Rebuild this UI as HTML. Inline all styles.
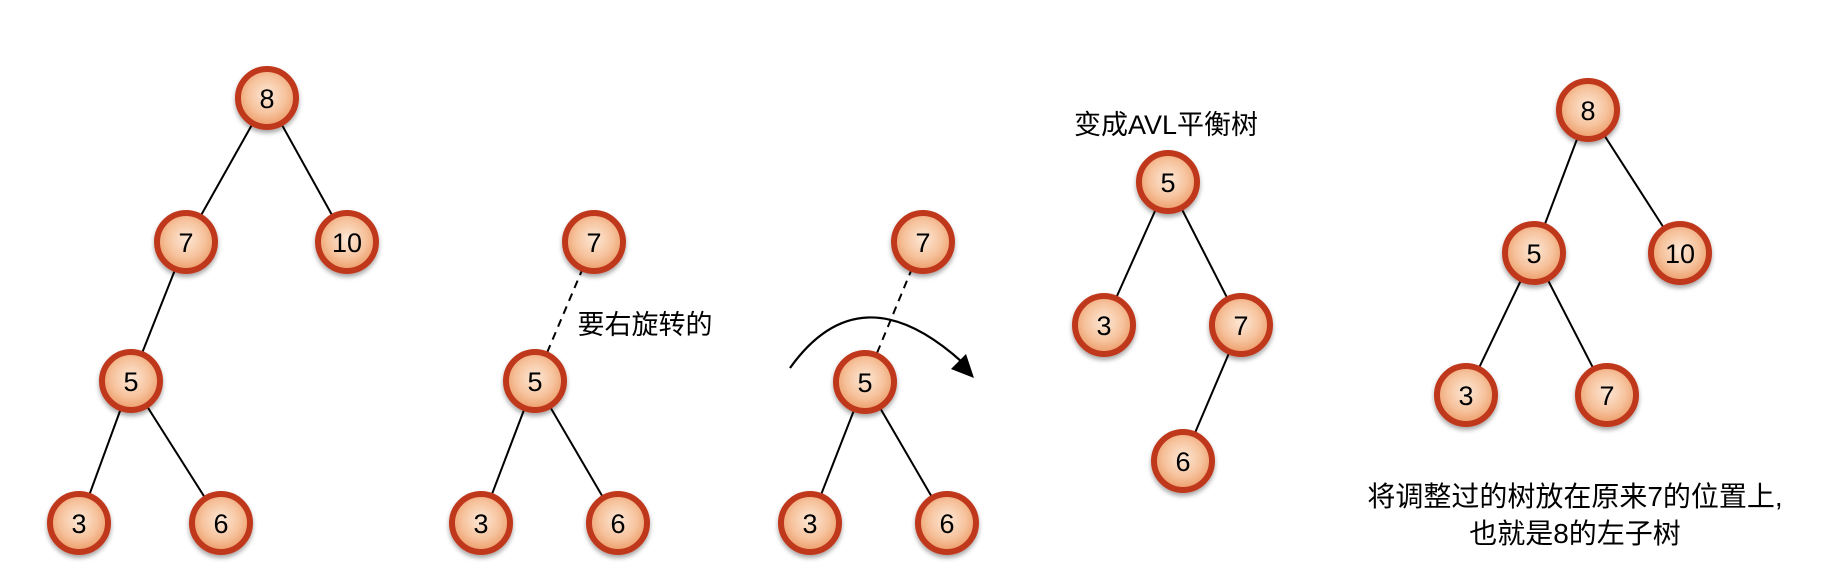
<!DOCTYPE html>
<html><head><meta charset="utf-8"><style>
body{margin:0;background:#fff}
text{font-family:"Liberation Sans","Noto Sans CJK SC",sans-serif}
</style></head><body>
<svg width="1822" height="580" viewBox="0 0 1822 580" xmlns="http://www.w3.org/2000/svg">
<defs>
<radialGradient id="g" cx="50%" cy="45%" r="55%">
<stop offset="0" stop-color="#fde8d6"/><stop offset="0.6" stop-color="#f6c29c"/><stop offset="1" stop-color="#ec9a66"/>
</radialGradient>
<filter id="sh" x="-30%" y="-30%" width="160%" height="170%"><feDropShadow dx="0" dy="3" stdDeviation="2.5" flood-opacity="0.35"/></filter>
</defs>
<g stroke="#000" stroke-width="2" fill="none">
<line x1="267" y1="98" x2="186" y2="242"/><line x1="267" y1="98" x2="347" y2="242"/>
<line x1="186" y1="242" x2="131" y2="381"/><line x1="131" y1="381" x2="79" y2="523"/><line x1="131" y1="381" x2="221" y2="523"/>
<line x1="594" y1="242" x2="535" y2="381" stroke-dasharray="8,6"/>
<line x1="535" y1="381" x2="481" y2="523"/><line x1="535" y1="381" x2="618" y2="523"/>
<line x1="923" y1="242" x2="865" y2="382" stroke-dasharray="8,6"/>
<line x1="865" y1="382" x2="810" y2="523"/><line x1="865" y1="382" x2="947" y2="523"/>
<line x1="1168" y1="182" x2="1104" y2="325"/><line x1="1168" y1="182" x2="1241" y2="325"/><line x1="1241" y1="325" x2="1183" y2="461"/>
<line x1="1588" y1="110" x2="1534" y2="253"/><line x1="1588" y1="110" x2="1680" y2="253"/>
<line x1="1534" y1="253" x2="1466" y2="395"/><line x1="1534" y1="253" x2="1607" y2="395"/>
<path d="M790 368 Q860 270 962 362" stroke-width="2.2"/>
</g>
<polygon points="974,378 951,369 966,354" fill="#000"/>
<g stroke="#c0391f" stroke-width="6" fill="url(#g)" filter="url(#sh)">
<circle cx="267" cy="98" r="29"/><circle cx="186" cy="242" r="29"/><circle cx="347" cy="242" r="29"/>
<circle cx="131" cy="381" r="29"/><circle cx="79" cy="523" r="29"/><circle cx="221" cy="523" r="29"/>
<circle cx="594" cy="242" r="29"/><circle cx="535" cy="381" r="29"/><circle cx="481" cy="523" r="29"/><circle cx="618" cy="523" r="29"/>
<circle cx="923" cy="242" r="29"/><circle cx="865" cy="382" r="29"/><circle cx="810" cy="523" r="29"/><circle cx="947" cy="523" r="29"/>
<circle cx="1168" cy="182" r="29"/><circle cx="1104" cy="325" r="29"/><circle cx="1241" cy="325" r="29"/><circle cx="1183" cy="461" r="29"/>
<circle cx="1588" cy="110" r="29"/><circle cx="1534" cy="253" r="29"/><circle cx="1680" cy="253" r="29"/><circle cx="1466" cy="395" r="29"/><circle cx="1607" cy="395" r="29"/>
</g>
<g font-size="27" text-anchor="middle" fill="#000">
<text x="267" y="108">8</text><text x="186" y="252">7</text><text x="347" y="252">10</text>
<text x="131" y="391">5</text><text x="79" y="533">3</text><text x="221" y="533">6</text>
<text x="594" y="252">7</text><text x="535" y="391">5</text><text x="481" y="533">3</text><text x="618" y="533">6</text>
<text x="923" y="252">7</text><text x="865" y="392">5</text><text x="810" y="533">3</text><text x="947" y="533">6</text>
<text x="1168" y="192">5</text><text x="1104" y="335">3</text><text x="1241" y="335">7</text><text x="1183" y="471">6</text>
<text x="1588" y="120">8</text><text x="1534" y="263">5</text><text x="1680" y="263">10</text><text x="1466" y="405">3</text><text x="1607" y="405">7</text>
</g>
<g font-size="27" text-anchor="middle" fill="#000">
<text x="645" y="334">要右旋转的</text>
<text x="1166" y="134">变成AVL平衡树</text>
</g>
<g font-size="28" text-anchor="middle" fill="#000">
<text x="1575" y="506">将调整过的树放在原来7的位置上,</text>
<text x="1575" y="543">也就是8的左子树</text>
</g>
</svg>
</body></html>
